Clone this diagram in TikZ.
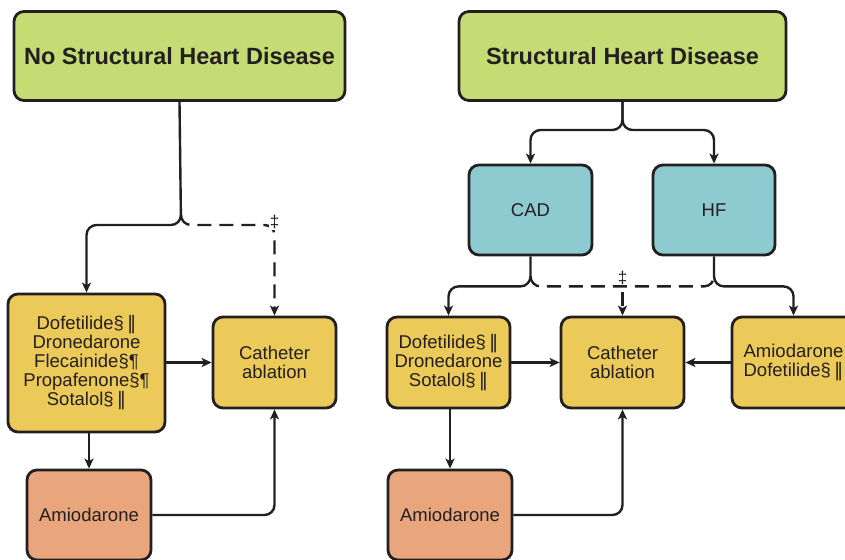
\documentclass[tikz,border=0pt]{standalone}
\usepackage{fontspec}
\setmainfont{Liberation Sans}
\newfontfamily\symfont{DejaVu Sans}
\usetikzlibrary{arrows.meta,calc}

\definecolor{edgegray}{HTML}{231F20}
\definecolor{titlegreen}{HTML}{C5DC75}
\definecolor{typeteal}{HTML}{8DCBD0}
\definecolor{drugyellow}{HTML}{ECCA5A}
\definecolor{amiosalmon}{HTML}{E9A67C}

\newcommand{\dbar}{{\symfont ‖}}

\begin{document}
\begin{tikzpicture}[x=1bp,y=-1bp,
    box/.style={draw=edgegray,line width=2.8bp,rounded corners=10bp,align=center,
      inner sep=2bp,text=edgegray,font=\fontsize{18.5bp}{19bp}\selectfont},
    titlebox/.style={box,fill=titlegreen,minimum height=89bp,
      font=\bfseries\fontsize{23.5bp}{26bp}\selectfont},
    typebox/.style={box,fill=typeteal,minimum width=123bp,minimum height=90bp},
    drugbox/.style={box,fill=drugyellow,minimum width=123bp,minimum height=91bp},
    amiobox/.style={box,fill=amiosalmon,minimum width=124bp,minimum height=90bp},
    link/.style={line width=2.4bp,draw=edgegray,rounded corners=10bp,
      -{Stealth[length=10bp,width=9bp,inset=2.5bp]}},
    dashlink/.style={link,dash pattern=on 14bp off 8bp},
    dagger/.style={inner sep=1bp,text=edgegray,font=\fontsize{17bp}{19bp}\selectfont}
    ]
    \clip (0,0) rectangle (845,560);

    % left: no structural heart disease
    \node (nshd) [titlebox,minimum width=331bp] at (179.5,56) {No Structural Heart Disease};
    \node (ldrug) [drugbox,minimum width=157bp,minimum height=138bp] at (86.5,363)
      {Dofetilide§\,\dbar\\Dronedarone\\Flecainide§¶\\Propafenone§¶\\Sotalol§\,\dbar};
    \node (lcath) [drugbox] at (274.5,362.5) {Catheter\\ablation};
    \node (lamio) [amiobox] at (89,515) {Amiodarone};

    \coordinate (ljoin) at (181,225);
    \coordinate (lcorner) at (lcath.north |- ljoin);
    \draw[link] (nshd.south) -- (ljoin) -| (ldrug.north);
    \draw[dashlink] ($(ljoin)+(0,-10)$) |- (lcorner) -- (lcath.north);
    \node (lmark) [dagger,fill=white] at ($(lcorner)+(0,-3)$) {‡};
    \draw[link] (ldrug.east |- lcath.west) -- (lcath.west);
    \draw[link] (ldrug.south -| lamio.north) -- (lamio.north);
    \draw[link] (lamio.east) -| (lcath.south);

    % right: structural heart disease
    \node (shd) [titlebox,minimum width=327bp] at (622.5,56) {Structural Heart Disease};
    \node (cad) [typebox] at (530.5,210) {CAD};
    \node (hf) [typebox,minimum width=122bp] at (714,210) {HF};
    \node (rdrug) [drugbox] at (448.5,362.5) {Dofetilide§\,\dbar\\Dronedarone\\Sotalol§\,\dbar};
    \node (rcath) [drugbox] at (622.5,362.5) {Catheter\\ablation};
    \node (rhf) [drugbox] at (793.5,362.5) {Amiodarone\\Dofetilide§\,\dbar};
    \node (ramio) [amiobox] at (450,515) {Amiodarone};

    \coordinate (rsplit) at (shd.south |- 0,130);
    \draw[link] (shd.south) -- (rsplit) -| (cad.north);
    \draw[link] (shd.south) -- (rsplit) -| (hf.north);

    \coordinate (cadj) at ($(cad.south)+(0,30)$);
    \coordinate (hfj) at ($(hf.south)+(0,30)$);
    \draw[link] (cad.south) -- (cadj) -| (rdrug.north);
    \draw[link] (hf.south) -- (hfj) -| (rhf.north);
    \draw[line width=2.4bp,draw=edgegray,rounded corners=10bp,dash pattern=on 14bp off 8bp]
      ($(cadj)+(0,-10)$) |- (hfj) -- ($(hfj)+(0,-10)$);
    \coordinate (rcorner) at (rcath.north |- cadj);
    \draw[dashlink] ($(rcorner)+(0,6)$) -- (rcath.north);
    \node (rmark) [dagger,above] at ($(rcorner)+(0,-1)$) {‡};

    \draw[link] (rdrug.east) -- (rcath.west);
    \draw[link] (rhf.west) -- (rcath.east);
    \draw[link] (rdrug.south -| ramio.north) -- (ramio.north);
    \draw[link] (ramio.east) -| (rcath.south);

  \end{tikzpicture}
\end{document}
